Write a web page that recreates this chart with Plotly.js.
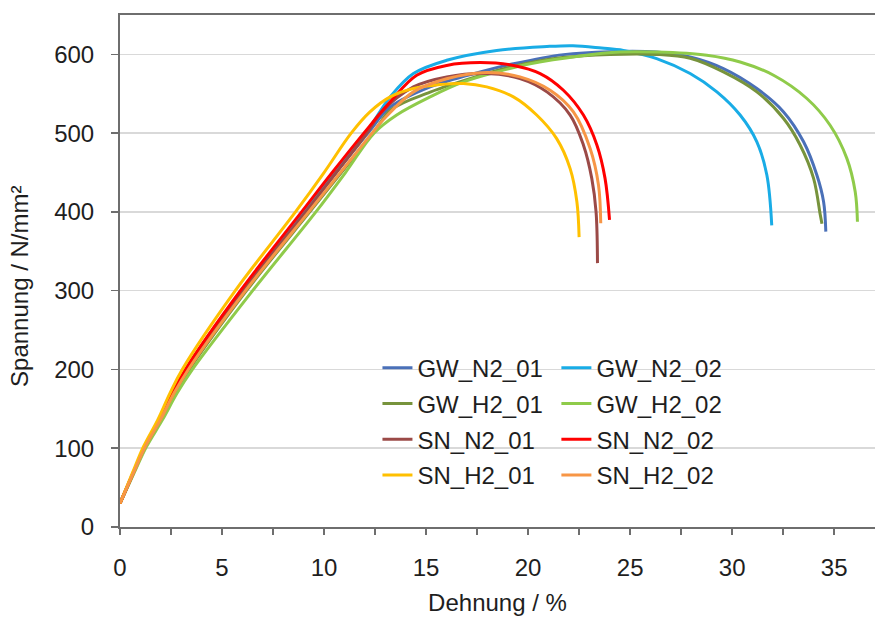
<!DOCTYPE html>
<html>
<head>
<meta charset="utf-8">
<script src="https://cdn.plot.ly/plotly-3.0.1.min.js"></script>
<style>html,body{margin:0;padding:0;background:#fff;}#chart{width:875px;height:617px;}</style>
</head>
<body>
<div id="chart"></div>
<script>
// Series names
const names = ['GW_N2_01','GW_N2_02','GW_H2_01','GW_H2_02','SN_N2_01','SN_N2_02','SN_H2_01','SN_H2_02'];

// Dehnung (%) and Spannung (N/mm²)
const gwN201_x = [0, 0.64, 1.22, 1.96, 2.62, 3.3, 6.05, 9.1, 10.6, 12.15, 13.24, 15.2, 17.65, 19.28, 21.73, 24.0, 26.3, 27.94, 29.57, 31.21, 32.52, 33.5, 34.15, 34.48, 34.59];
const gwN201_y = [30, 68, 102, 136, 170, 200, 300, 400, 450, 500, 533, 558.7, 577.7, 588, 599.7, 603.5, 603, 596.7, 582, 556.6, 527, 489, 446.8, 413, 375];

const gwN202_x = [0, 0.64, 1.22, 1.95, 2.6, 3.25, 6.0, 9.0, 10.5, 12.05, 13.24, 14.38, 16.01, 18.46, 20.92, 22.2, 23.6, 24.67, 26.3, 27.94, 29.25, 30.39, 31.21, 31.7, 31.94];
const gwN202_y = [30, 68, 102, 136, 170, 200, 300, 400, 450, 500, 546, 575.7, 592.5, 605, 610, 611, 608, 605, 594.7, 575.7, 552.4, 523, 489, 446.8, 383];

const gwH201_x = [0, 0.66, 1.25, 2.0, 2.68, 3.4, 6.2, 9.3, 10.85, 12.4, 13.3, 15.2, 17.5, 19.3, 21.7, 24.0, 26.3, 27.94, 29.57, 31.21, 32.52, 33.33, 33.99, 34.32, 34.4];
const gwH201_y = [30, 68, 102, 136, 170, 200, 300, 400, 450, 500, 530, 552, 572, 585, 596, 600, 600, 595, 577.7, 552.4, 518.6, 485, 442.6, 396, 385];

const gwH202_x = [0, 0.68, 1.3, 2.08, 2.8, 3.55, 6.5, 9.6, 11.05, 12.45, 13.56, 15.2, 16.83, 18.46, 20.1, 22.55, 24.5, 26.3, 28.76, 30.39, 32.03, 33.66, 34.8, 35.62, 36.03, 36.14];
const gwH202_y = [30, 68, 102, 136, 170, 200, 300, 400, 450, 500, 523, 546, 565, 577.7, 588, 598, 603, 603, 599, 590.4, 573.5, 544, 510, 468, 425.6, 387.6];

const snN201_x = [0, 0.64, 1.22, 1.96, 2.62, 3.3, 6.05, 9.1, 10.6, 12.1, 12.75, 14.38, 16.01, 17.97, 19.6, 20.92, 22.06, 22.71, 23.12, 23.33, 23.4];
const snN201_y = [30, 68, 102, 136, 170, 200, 300, 400, 450, 500, 525, 558.7, 571.4, 575.7, 569.3, 552.4, 523, 485, 442.6, 400, 335];

const snN202_x = [0, 0.63, 1.2, 1.92, 2.56, 3.2, 5.9, 8.9, 10.4, 11.95, 13.24, 14.54, 16.01, 17.65, 19.28, 20.59, 21.73, 22.71, 23.37, 23.77, 23.99];
const snN202_y = [30, 68, 102, 136, 170, 200, 300, 400, 450, 500, 539.7, 573.5, 586, 589.6, 586, 575.7, 554.5, 523, 485, 442.6, 390];

const snH201_x = [0, 0.6, 1.15, 1.85, 2.45, 3.05, 5.65, 8.6, 10.0, 11.33, 12.25, 13.24, 14.38, 15.69, 16.83, 17.97, 19.28, 20.42, 21.4, 22.06, 22.39, 22.5];
const snH201_y = [30, 68, 102, 136, 170, 200, 300, 400, 450, 500, 527, 546, 556.6, 561.7, 563, 558.7, 546, 523, 493, 455, 413, 368];

const snH202_x = [0, 0.65, 1.24, 1.98, 2.65, 3.35, 6.15, 9.25, 10.8, 12.35, 12.9, 14.38, 16.01, 17.97, 19.6, 21.08, 22.22, 23.04, 23.45, 23.56];
const snH202_y = [30, 68, 102, 136, 170, 200, 300, 400, 450, 500, 517, 552.4, 569, 577, 571.4, 554.5, 527, 480.6, 434, 385.5];

const xTickVals = [0, 2.5, 5, 7.5, 10, 12.5, 15, 17.5, 20, 22.5, 25, 27.5, 30, 32.5, 35];
const xTickText = ['0', '', '5', '', '10', '', '15', '', '20', '', '25', '', '30', '', '35'];
const yTickVals = [0, 100, 200, 300, 400, 500, 600];

const colors = ['#4A70B8', '#19ACE6', '#77933C', '#8FCB4A', '#9B4A47', '#FF0000', '#FFC000', '#F79646'];
const xs = [gwN201_x, gwN202_x, gwH201_x, gwH202_x, snN201_x, snN202_x, snH201_x, snH202_x];
const ys = [gwN201_y, gwN202_y, gwH201_y, gwH202_y, snN201_y, snN202_y, snH201_y, snH202_y];

const traces = names.map((n, i) => ({
  type: 'scatter', mode: 'lines', name: n, x: xs[i], y: ys[i],
  line: {color: colors[i], width: 3, shape: 'spline', smoothing: 1},
  legend: (i % 2 === 0) ? 'legend' : 'legend2',
  legendgroup: n
}));

const FONT = 'Arial, "Liberation Sans", sans-serif';
const TXT = '#1E1E1E';
const AX = '#6E6E6E';
const legendCommon = {
  bgcolor: 'rgba(0,0,0,0)', borderwidth: 0,
  font: {family: FONT, size: 24, color: TXT},
  traceorder: 'grouped', tracegroupgap: 1.5,
  yanchor: 'top', xanchor: 'left', y: 0.354
};

const layout = {
  width: 875, height: 617,
  margin: {l: 120, r: 0, t: 15, b: 89.5},
  paper_bgcolor: '#fff', plot_bgcolor: '#fff',
  font: {family: FONT, size: 24, color: TXT},
  showlegend: true,
  legend: Object.assign({}, legendCommon, {x: 0.341}),
  legend2: Object.assign({}, legendCommon, {x: 0.578}),
  xaxis: {
    range: [0, 37], tickmode: 'array', tickvals: xTickVals, ticktext: xTickText,
    showgrid: false, zeroline: false, showline: true, linecolor: AX, linewidth: 2,
    mirror: true, ticks: 'outside', ticklen: 6, tickwidth: 1.5, tickcolor: AX,
    tickfont: {family: FONT, size: 24, color: TXT}, ticklabelstandoff: 12,
    title: {text: 'Dehnung / %', font: {family: FONT, size: 24, color: TXT}, standoff: 14}
  },
  yaxis: {
    range: [0, 650], tickmode: 'array', tickvals: yTickVals,
    showgrid: true, gridcolor: '#D9D9D9', gridwidth: 1.5, zeroline: false,
    showline: true, linecolor: AX, linewidth: 2, ticks: 'outside', ticklen: 7, tickwidth: 1.5, tickcolor: AX,
    tickfont: {family: FONT, size: 24, color: TXT}, ticklabelstandoff: 12
  },
  annotations: [{
    text: 'Spannung / N/mm²', textangle: -90, showarrow: false,
    xref: 'paper', yref: 'paper', x: -0.133, y: 0.47, xanchor: 'center', yanchor: 'middle',
    font: {family: FONT, size: 24, color: TXT}
  }]
};

Plotly.newPlot('chart', traces, layout, {displayModeBar: false, staticPlot: true});
</script>
</body>
</html>
